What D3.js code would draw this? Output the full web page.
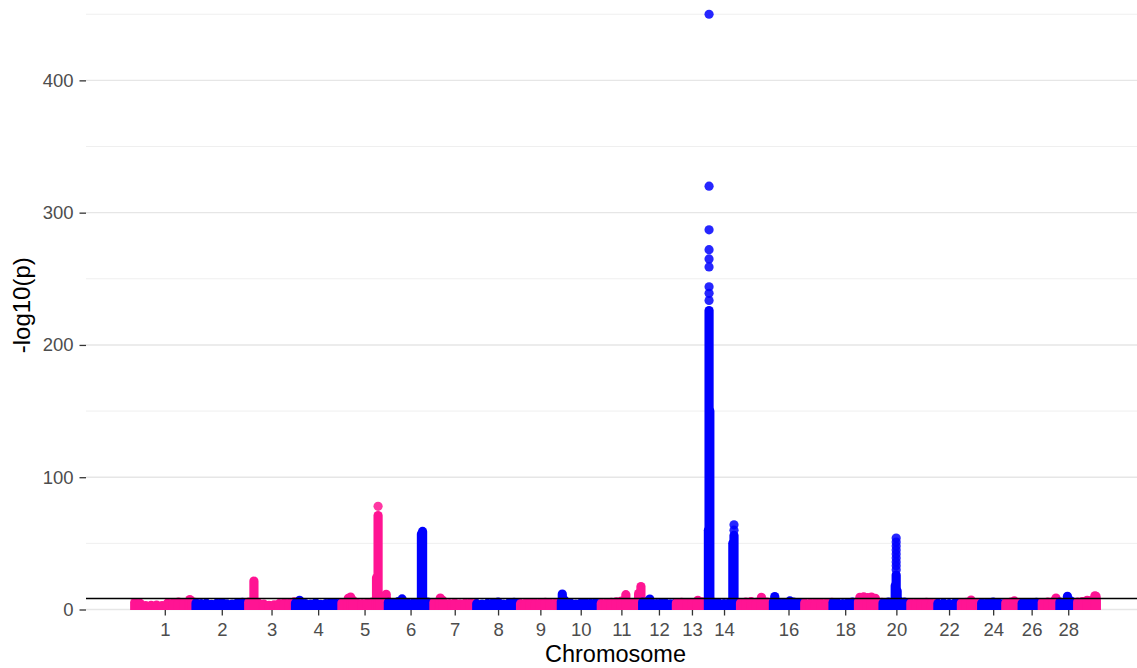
<!DOCTYPE html>
<html lang="en">
<head>
<meta charset="utf-8">
<script src="https://d3js.org/d3.v7.min.js"></script>
<style>
  body { margin: 0; background: #fff; }
  text { font-family: "Liberation Sans", Arial, sans-serif; }
</style>
</head>
<body>
<div id="chart"></div>
<script>

// chromosomes and their lengths (Mb)
const chromosomes = ["1","2","3","4","5","6","7","8","9","10","11","12","13","14","15",
  "16","17","18","19","20","21","22","23","24","25","26","27","28","29"];
const chromLengths = [158.53, 136.23, 121.01, 120.00, 120.09, 117.81, 110.68, 113.32, 105.45,
  103.31, 106.98, 87.22, 83.47, 82.40, 85.01, 81.01, 73.17, 65.82, 63.45, 71.97, 69.86,
  60.77, 52.50, 62.32, 42.35, 51.99, 45.61, 45.94, 51.10];
const xTickLabels = ["1","2","3","4","5","6","7","8","9","10","11","12","13","14",
  "16","18","20","22","24","26","28"];
const yTicks = [0, 100, 200, 300, 400];
const yMinor = [50, 150, 250, 350, 450];
const threshold = 8.3;

// upper edge of the dense cloud of non-significant SNPs, sampled along each chromosome
const backgroundLevels = [
  [5.2, 4.6, 3.0, 3.2, 3.4, 3.0, 4.8, 5.0, 5.5, 5.2, 6.0, 5.4],
  [5.0, 4.4, 4.8, 3.8, 4.6, 5.2, 4.2, 4.0, 5.0, 5.4, 4.8],
  [5.5, 5.0, 4.6, 4.0, 3.2, 3.6, 4.4, 5.0, 4.6, 5.8],
  [5.0, 6.0, 4.4, 4.0, 5.0, 3.8, 4.4, 5.2, 4.6, 5.0],
  [5.0, 6.0, 6.5, 5.0, 4.4, 5.0, 5.6, 6.0, 6.8, 7.0],
  [5.4, 5.0, 6.0, 5.0, 4.6, 4.8, 5.4, 6.0, 5.6, 5.0],
  [5.2, 6.4, 5.0, 4.4, 5.0, 4.2, 4.8, 5.0, 4.6],
  [4.4, 4.0, 4.6, 5.0, 5.6, 4.0, 4.8, 5.4, 4.6],
  [4.4, 4.8, 5.2, 4.6, 5.0, 5.4, 4.8, 4.6, 5.0],
  [6.0, 5.2, 4.6, 4.0, 4.8, 5.0, 4.6, 5.0, 4.4],
  [4.6, 5.0, 5.4, 5.8, 6.4, 5.6, 5.2, 6.0, 5.4],
  [5.6, 6.0, 4.8, 4.4, 5.0, 4.6, 4.2, 4.8],
  [5.0, 5.4, 4.8, 5.2, 5.0, 5.8, 5.4],
  [6.0, 5.4, 4.8, 4.4, 5.0, 6.2, 5.0],
  [5.0, 5.6, 6.0, 5.4, 6.4, 5.6, 5.2],
  [5.8, 5.0, 4.8, 5.2, 5.6, 5.0, 4.6],
  [5.0, 4.6, 5.2, 5.0, 4.8, 5.4],
  [5.2, 4.8, 4.4, 5.0, 5.6, 5.2],
  [6.0, 6.4, 6.0, 6.2, 5.8, 5.4],
  [5.0, 5.6, 6.0, 6.4, 5.6, 5.0],
  [5.0, 4.8, 5.2, 5.4, 4.6, 5.0],
  [4.6, 5.0, 4.4, 4.8, 5.2],
  [5.0, 5.4, 6.0, 5.2, 5.0],
  [4.8, 5.2, 5.6, 5.0, 4.6],
  [5.0, 5.6, 5.2, 5.0],
  [4.8, 5.2, 5.0, 5.4, 4.8],
  [5.2, 5.6, 6.0, 5.4],
  [5.6, 6.0, 6.4, 5.2],
  [5.6, 6.0, 6.4, 7.0, 7.6]
];

// dense stacks of SNPs (chromosome, position Mb, highest -log10 p of the stack)
const stackChr = ["1","1","3","4","5","5","5","5","5","5","5","5","6","6","6",
  "7","7","10","10","11","11","11","12","13","14","14","14","14","14","15","16","16",
  "19","19","19","19","19","20","20","20","23","25","27","28","29","29","29"];
const stackPos = [144, 150, 15, 12, 18, 24, 30, 91, 95, 100, 108, 116, 37, 87, 90,
  18, 24, 4, 10, 65, 98, 104, 20, 57, 2.5, 0.8, 4.5, 64, 67, 55.6, 5, 44,
  5, 15, 25, 35, 45, 35.5, 33, 38, 26.6, 23.6, 37, 21, 26, 46, 49];
const stackTop = [7.5, 6.0, 21.5, 7.0, 8.5, 9.4, 7.0, 24, 71, 9.0, 10, 11.5, 8.0, 57, 59,
  8.7, 7.0, 11.7, 7.0, 11.2, 12, 17.3, 7.9, 7.0, 226, 60, 150, 50, 56, 9.2, 9.8, 6.5,
  9.2, 9.5, 9.0, 9.4, 8.5, 26, 18, 14, 7.2, 6.5, 8.7, 10, 7.0, 10.4, 10];

// single SNPs standing above the stacks
const snpChr = ["5","14","14","14","14","14","14","14","14","14","14","14",
  "20","20","20","20","20","20","20","20","20"];
const snpPos = [95, 2.5, 2.5, 2.5, 2.5, 2.5, 2.5, 2.5, 2.5, 2.5, 67, 67,
  35.5, 35.5, 35.5, 35.5, 35.5, 35.5, 35.5, 35.5, 35.5];
const snpVal = [78, 233.6, 239, 244, 259, 265, 272, 287, 320, 450, 60, 64,
  30, 33, 36, 39, 42, 45, 48, 51, 54];

const width = 1137, height = 668;
const panel = {left: 86, right: 1145, top: 1, bottom: 609.5};
const radius = 4.6;
const colors = ["#FF1493", "#0000FF"];

// cumulative chromosome offsets
const offsets = {};
let total = 0;
chromosomes.forEach((c, i) => { offsets[c] = total; total += chromLengths[i]; });
const chromColor = c => colors[chromosomes.indexOf(c) % 2];
const gpos = (c, p) => offsets[c] + p;

const x = d3.scaleLinear()
  .domain([-0.05 * total, 1.05 * total])
  .range([panel.left, panel.right]);
const y = d3.scaleLinear()
  .domain([0, 460])
  .range([panel.bottom, panel.top]);

const svg = d3.select("#chart")
  .append("svg")
    .attr("width", width)
    .attr("height", height);

svg.append("defs").append("clipPath").attr("id", "panel-clip")
  .append("rect")
    .attr("x", panel.left).attr("y", 0)
    .attr("width", panel.right - panel.left)
    .attr("height", panel.bottom + 0.6);

// grid
svg.append("g").selectAll("line.minor")
  .data(yMinor)
  .join("line")
    .attr("x1", panel.left).attr("x2", panel.right)
    .attr("y1", d => y(d)).attr("y2", d => y(d))
    .attr("stroke", "#EFEFEF").attr("stroke-width", 1);
svg.append("g").selectAll("line.major")
  .data(yTicks)
  .join("line")
    .attr("x1", panel.left).attr("x2", panel.right)
    .attr("y1", d => y(d)).attr("y2", d => y(d))
    .attr("stroke", "#E6E6E6").attr("stroke-width", 1.4);

const marks = svg.append("g").attr("clip-path", "url(#panel-clip)");

chromosomes.forEach((c, i) => {
  const g = marks.append("g");
  const L = chromLengths[i];
  const levels = backgroundLevels[i];
  const pad = 1.5;
  const bg = levels.map((v, k) => ({
    pos: pad + (L - 2 * pad) * k / (levels.length - 1), v: v
  }));
  g.selectAll("line.bg")
    .data(bg)
    .join("line")
      .attr("x1", d => x(gpos(c, d.pos))).attr("x2", d => x(gpos(c, d.pos)))
      .attr("y1", y(0)).attr("y2", d => y(d.v))
      .attr("stroke", chromColor(c))
      .attr("stroke-width", radius * 2)
      .attr("stroke-linecap", "round");

  const stacks = stackChr.map((sc, k) => ({c: sc, pos: stackPos[k], v: stackTop[k]}))
    .filter(d => d.c === c);
  g.selectAll("line.stack")
    .data(stacks)
    .join("line")
      .attr("x1", d => x(gpos(c, d.pos))).attr("x2", d => x(gpos(c, d.pos)))
      .attr("y1", y(0)).attr("y2", d => y(d.v))
      .attr("stroke", chromColor(c))
      .attr("stroke-width", radius * 2)
      .attr("stroke-linecap", "round");

  const snps = snpChr.map((sc, k) => ({c: sc, pos: snpPos[k], v: snpVal[k]}))
    .filter(d => d.c === c);
  g.selectAll("circle")
    .data(snps)
    .join("circle")
      .attr("cx", d => x(gpos(c, d.pos)))
      .attr("cy", d => y(d.v))
      .attr("r", radius)
      .attr("fill", chromColor(c))
      .attr("fill-opacity", 0.85);
});

// genome-wide significance line
svg.append("line")
  .attr("x1", panel.left).attr("x2", panel.right)
  .attr("y1", y(threshold)).attr("y2", y(threshold))
  .attr("stroke", "#000").attr("stroke-width", 1.5);

// axes
const tickPositions = xTickLabels.map(l => offsets[l] + chromLengths[chromosomes.indexOf(l)] / 2);
const xAxis = svg.append("g")
  .attr("transform", `translate(0, ${panel.bottom + 0.5})`)
  .call(d3.axisBottom(x)
    .tickValues(tickPositions)
    .tickFormat((d, i) => xTickLabels[i])
    .tickSize(5.5)
    .tickPadding(7.5));
const yAxis = svg.append("g")
  .attr("transform", `translate(${panel.left}, 0)`)
  .call(d3.axisLeft(y)
    .tickValues(yTicks)
    .tickSize(6.5)
    .tickPadding(6));

[xAxis, yAxis].forEach(a => {
  a.select(".domain").remove();
  a.selectAll(".tick line").attr("stroke", "#333").attr("stroke-width", 1.3);
  a.selectAll(".tick text")
    .attr("fill", "#4D4D4D")
    .style("font-size", "18.5px")
    .style("font-family", "'Liberation Sans', Arial, sans-serif");
});

svg.append("text")
  .attr("x", (panel.left + panel.right) / 2)
  .attr("y", 662)
  .attr("text-anchor", "middle")
  .style("font-size", "23.5px")
  .text("Chromosome");

svg.append("text")
  .attr("transform", `translate(30, ${(panel.top + panel.bottom) / 2}) rotate(-90)`)
  .attr("text-anchor", "middle")
  .style("font-size", "24px")
  .text("-log10(p)");

</script>
</body>
</html>
